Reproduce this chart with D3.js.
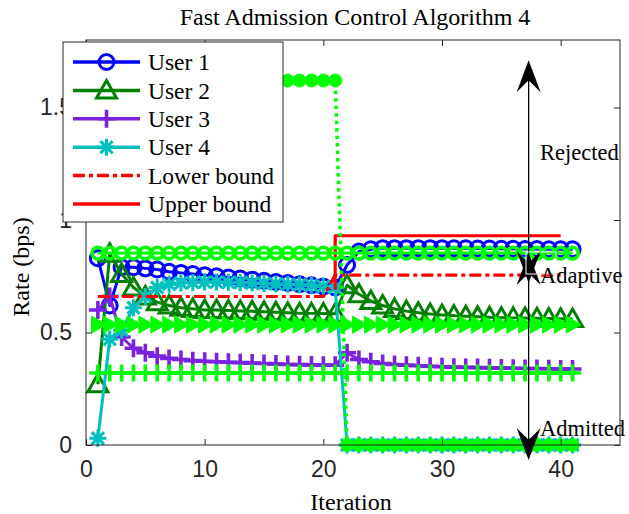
<!DOCTYPE html>
<html>
<head>
<meta charset="utf-8">
<script src="https://cdn.jsdelivr.net/npm/d3@7"></script>
<style>
  body { margin: 0; background: #fff; }
  svg { display: block; }
</style>
</head>
<body>
<svg id="chart" width="629" height="514"></svg>
<script>
// ---- data -------------------------------------------------------------
const iterations = [1,2,3,4,5,6,7,8,9,10,11,12,13,14,15,16,17,18,19,20,21,
                    22,23,24,25,26,27,28,29,30,31,32,33,34,35,36,37,38,39,40,41];

const user1 = [0.83,0.62,0.79,0.79,0.785,0.78,0.77,0.765,0.76,0.755,0.75,0.745,0.74,0.735,0.73,0.725,0.72,0.715,0.71,0.705,0.70,
               0.80,0.86,0.87,0.875,0.875,0.875,0.875,0.875,0.875,0.874,0.874,0.873,0.873,0.872,0.872,0.871,0.871,0.870,0.870,0.870];
const user2 = [0.27,0.85,0.76,0.70,0.66,0.635,0.62,0.61,0.605,0.60,0.60,0.598,0.596,0.594,0.592,0.59,0.588,0.586,0.585,0.584,0.583,
               0.71,0.67,0.64,0.62,0.605,0.595,0.588,0.582,0.578,0.575,0.572,0.57,0.568,0.566,0.565,0.564,0.563,0.562,0.561,0.56];
const user3 = [0.60,0.66,0.48,0.43,0.41,0.395,0.385,0.38,0.375,0.372,0.37,0.368,0.366,0.364,0.362,0.36,0.358,0.357,0.356,0.355,0.355,
               0.41,0.38,0.37,0.362,0.358,0.355,0.352,0.35,0.348,0.346,0.345,0.344,0.343,0.342,0.341,0.34,0.34,0.339,0.338,0.338];
const user4 = [0.03,0.47,0.51,0.61,0.66,0.70,0.715,0.72,0.722,0.724,0.724,0.723,0.722,0.72,0.718,0.716,0.714,0.712,0.71,0.705,0.70,
               0,0,0,0,0,0,0,0,0,0,0,0,0,0,0,0,0,0,0,0];

// admission bounds
const lowerX = [1,2,3,4,5,6,7,8,9,10,11,12,13,14,15,16,17,18,19,20,
                21,22,23,24,25,26,27,28,29,30,31,32,33,34,35,36,37,38,39,40];
const lowerY = [0.66,0.66,0.66,0.66,0.66,0.66,0.66,0.66,0.66,0.66,0.66,0.66,0.66,0.66,0.66,0.66,0.66,0.66,0.66,0.66,
                0.755,0.755,0.755,0.755,0.755,0.755,0.755,0.755,0.755,0.755,0.755,0.755,0.755,0.755,0.755,0.755,0.755,0.755,0.755,0.755];
const upperX = [21, 21, 40];
const upperY = [0.69, 0.93, 0.93];

// reference rates (light green, no legend entry)
const ref1 = [0.853,0.853,0.853,0.853,0.853,0.853,0.853,0.853,0.853,0.853,0.853,0.853,0.853,0.853,0.853,0.853,0.853,0.853,0.853,0.853,0.853,
              0.853,0.853,0.853,0.853,0.853,0.853,0.853,0.853,0.853,0.853,0.853,0.853,0.853,0.853,0.853,0.853,0.853,0.853,0.853,0.853];
const ref2 = [0.535,0.535,0.535,0.535,0.535,0.535,0.535,0.535,0.535,0.535,0.535,0.535,0.535,0.535,0.535,0.535,0.535,0.535,0.535,0.535,0.535,
              0.535,0.535,0.535,0.535,0.535,0.535,0.535,0.535,0.535,0.535,0.535,0.535,0.535,0.535,0.535,0.535,0.535,0.535,0.535,0.535];
const ref3 = [0.32,0.32,0.32,0.32,0.32,0.32,0.32,0.32,0.32,0.32,0.32,0.32,0.32,0.32,0.32,0.32,0.32,0.32,0.32,0.32,0.32,
              0.32,0.32,0.32,0.32,0.32,0.32,0.32,0.32,0.32,0.32,0.32,0.32,0.32,0.32,0.32,0.32,0.32,0.32,0.32,0.32];
const ref4 = [1.62,1.62,1.62,1.62,1.62,1.62,1.62,1.62,1.62,1.62,1.62,1.62,1.62,1.62,1.62,1.62,1.62,1.62,1.62,1.62,1.62,
              0,0,0,0,0,0,0,0,0,0,0,0,0,0,0,0,0,0,0,0];

const xTicks = [0, 10, 20, 30, 40];
const yTicks = [0, 0.5, 1, 1.5];
const yTickLabels = ["0", "0.5", "1", "1.5"];

const legendLabels = ["User 1", "User 2", "User 3", "User 4", "Lower bound", "Upper bound"];
const regionLabels = ["Rejected", "Adaptive", "Admitted"];

// ---- layout -----------------------------------------------------------
const svg = d3.select("#chart");
const W = 629, H = 514;
const plot = { left: 86, right: 620, top: 40, bottom: 445 };

const x = d3.scaleLinear().domain([0, 45]).range([plot.left, plot.right]);
const y = d3.scaleLinear().domain([0, 1.8]).range([plot.bottom, plot.top]);

const SERIF = "'Liberation Serif', 'Times New Roman', serif";
const SANS = "'Liberation Sans', Arial, Helvetica, sans-serif";
const AXIS = "#262626";

const C = { blue: "#0000ff", green: "#008000", purple: "#7b22e0", cyan: "#00bfbf",
            red: "#ff0000", lime: "#00ff00" };

svg.append("rect").attr("width", W).attr("height", H).attr("fill", "#fff");

// marker shapes centred on (0,0)
function markerPath(type, s) {
  switch (type) {
    case "circle":
      return `M${s},0A${s},${s} 0 1,1 ${-s},0A${s},${s} 0 1,1 ${s},0Z`;
    case "triUp":
      return `M0,${-s}L${s},${s * 0.75}L${-s},${s * 0.75}Z`;
    case "triRight":
      return `M${s},0L${-s * 0.75},${-s}L${-s * 0.75},${s}Z`;
    case "plus":
      return `M${-s},0H${s}M0,${-s}V${s}`;
    case "star": {
      const d = s * 0.72;
      return `M${-s},0H${s}M0,${-s}V${s}M${-d},${-d}L${d},${d}M${-d},${d}L${d},${-d}`;
    }
  }
}

const layer = svg.append("g");

function drawSeries(xs, ys, st) {
  const pts = xs.map((v, i) => [v, ys[i]]);
  const line = d3.line().x(d => x(d[0])).y(d => y(d[1]));
  const g = layer.append("g");
  g.append("path").datum(pts)
    .attr("d", line)
    .attr("fill", "none")
    .attr("stroke", st.color)
    .attr("stroke-width", st.width)
    .attr("stroke-linejoin", "round")
    .attr("stroke-dasharray", st.dash || null);
  if (st.marker) {
    g.selectAll("path.m").data(pts).join("path")
      .attr("class", "m")
      .attr("transform", d => `translate(${x(d[0])},${y(d[1])})`)
      .attr("d", markerPath(st.marker, st.size))
      .attr("fill", st.fill || "none")
      .attr("stroke", st.color)
      .attr("stroke-width", st.mw || st.width)
      .attr("stroke-linejoin", "miter");
  }
}

const styles = [
  { color: C.blue,   width: 3, marker: "circle", size: 7.5, mw: 3 },
  { color: C.green,  width: 3, marker: "triUp",  size: 10,  mw: 3 },
  { color: C.purple, width: 3, marker: "plus",   size: 9,   mw: 3.6 },
  { color: C.cyan,   width: 3, marker: "star",   size: 8.5, mw: 3 },
  { color: C.red,    width: 3.2, dash: "12,4,4,4" },
  { color: C.red,    width: 3.2 }
];

drawSeries(iterations, user1, styles[0]);
drawSeries(iterations, user2, styles[1]);
drawSeries(iterations, user3, styles[2]);
drawSeries(iterations, user4, styles[3]);
drawSeries(lowerX, lowerY, styles[4]);
drawSeries(upperX, upperY, styles[5]);

drawSeries(iterations, ref1, { color: C.lime, width: 3, marker: "circle", size: 5.8, mw: 3.6 });
drawSeries(iterations, ref2, { color: C.lime, width: 3, marker: "triRight", size: 8.5, fill: C.lime, mw: 1 });
drawSeries(iterations, ref3, { color: C.lime, width: 3, marker: "plus", size: 8.5, mw: 3.6 });
drawSeries(iterations, ref4, { color: C.lime, width: 3.5, dash: "3.5,4", marker: "circle", size: 6.5, fill: C.lime, mw: 1 });

// ---- axes box -----------------------------------------------------------
const axes = svg.append("g");
axes.append("rect")
  .attr("x", plot.left).attr("y", plot.top)
  .attr("width", plot.right - plot.left).attr("height", plot.bottom - plot.top)
  .attr("fill", "none").attr("stroke", AXIS).attr("stroke-width", 1);

axes.append("g").attr("transform", `translate(0,${plot.bottom})`)
  .call(d3.axisBottom(x).tickValues(xTicks).tickSizeInner(-6).tickSizeOuter(0).tickPadding(16));
axes.append("g").attr("transform", `translate(0,${plot.top})`)
  .call(d3.axisTop(x).tickValues(xTicks).tickSizeInner(-6).tickSizeOuter(0).tickFormat(""));
axes.append("g").attr("transform", `translate(${plot.left},0)`)
  .call(d3.axisLeft(y).tickValues(yTicks).tickFormat((d, i) => yTickLabels[i])
        .tickSizeInner(-6).tickSizeOuter(0).tickPadding(14));
axes.append("g").attr("transform", `translate(${plot.right},0)`)
  .call(d3.axisRight(y).tickValues(yTicks).tickSizeInner(-6).tickSizeOuter(0).tickFormat(""));

axes.selectAll(".domain").remove();
axes.selectAll(".tick line").attr("stroke", AXIS);
axes.selectAll(".tick text").attr("fill", AXIS).style("font-family", SANS).style("font-size", "23px");

// axis titles
svg.append("text").attr("x", 351).attr("y", 510)
  .attr("text-anchor", "middle").style("font-family", SERIF).style("font-size", "24px")
  .attr("fill", "#000").text("Iteration");
svg.append("text").attr("transform", "translate(29,267) rotate(-90)")
  .attr("text-anchor", "middle").style("font-family", SERIF).style("font-size", "24px")
  .attr("fill", "#000").text("Rate (bps)");
svg.append("text").attr("x", 355).attr("y", 25)
  .attr("text-anchor", "middle").style("font-family", SERIF).style("font-size", "24px")
  .attr("fill", "#000").text("Fast Admission Control Algorithm 4");

// ---- region arrows --------------------------------------------------------
const ann = svg.append("g");
function headPath(tx, ty, dir) {
  // dir = -1 points up, +1 points down
  const L = 32, Wd = 12, back = 20;
  return `M${tx},${ty}L${tx - Wd},${ty - dir * L}L${tx},${ty - dir * back}L${tx + Wd},${ty - dir * L}Z`;
}
function doubleArrow(xv, yTop, yBot) {
  const px = x(xv), p1 = y(yTop), p2 = y(yBot);
  ann.append("line").attr("x1", px).attr("x2", px).attr("y1", p1 + 10).attr("y2", p2 - 10)
    .attr("stroke", "#000").attr("stroke-width", 1.3);
  ann.append("path").attr("d", headPath(px, p1, -1)).attr("fill", "#000");
  ann.append("path").attr("d", headPath(px, p2, 1)).attr("fill", "#000");
}
doubleArrow(37.3, 1.71, 0.72);
doubleArrow(37.3, 0.853, -0.067);

// white text frame beside the adaptive arrow
ann.append("rect").attr("x", 526).attr("y", 252).attr("width", 30).attr("height", 22)
  .attr("fill", "none").attr("stroke", "#fff").attr("stroke-width", 1);

const regionY = [1.30, 0.755, 0.075];
ann.selectAll("text.region").data(regionLabels).join("text")
  .attr("class", "region")
  .attr("x", 540)
  .attr("y", (d, i) => y(regionY[i]))
  .attr("dy", "0.35em")
  .style("font-family", SERIF).style("font-size", "22.5px").attr("fill", "#000")
  .text(d => d);

// ---- legend -----------------------------------------------------------------
const lg = svg.append("g");
lg.append("rect").attr("x", 63).attr("y", 42).attr("width", 220).attr("height", 180)
  .attr("fill", "#fff").attr("stroke", AXIS).attr("stroke-width", 1);
legendLabels.forEach((label, i) => {
  const cy = 62 + i * 28.4;
  const st = styles[i];
  lg.append("line").attr("x1", 73).attr("x2", 140).attr("y1", cy).attr("y2", cy)
    .attr("stroke", st.color).attr("stroke-width", 3.5)
    .attr("stroke-dasharray", st.dash || null);
  if (st.marker) {
    lg.append("path").attr("transform", `translate(106.5,${cy})`)
      .attr("d", markerPath(st.marker, st.size))
      .attr("fill", "none").attr("stroke", st.color).attr("stroke-width", st.mw || st.width);
  }
  lg.append("text").attr("x", 148).attr("y", cy).attr("dy", "0.35em")
    .style("font-family", SERIF).style("font-size", "23.5px").attr("fill", "#000")
    .text(label);
});
</script>
</body>
</html>
